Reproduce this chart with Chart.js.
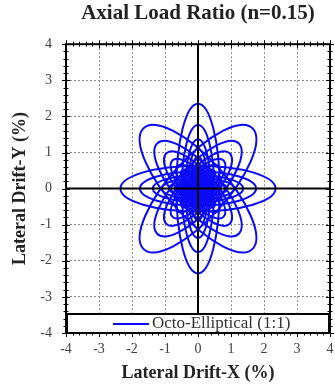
<!DOCTYPE html>
<html>
<head>
<meta charset="utf-8">
<script src="https://cdn.jsdelivr.net/npm/chart.js@4"></script>
<style>
  html, body { margin: 0; padding: 0; background: #fff; }
  canvas { display: block; }
</style>
</head>
<body>
<canvas id="orbit" width="335" height="392"></canvas>
<script>
// Data
const seriesLabel = 'Octo-Elliptical (1:1)';
// petal orientation (degrees) for the 4 ellipses of each drift level
const petalAngles = [0, 45, 90, 135];
// minor / major axis ratio of the petal at each orientation
const petalRatios = [0.27, 0.36, 0.28, 0.36];
// semi-major axis of each drift level (% drift)
const amplitudes = [0.06, 0.08, 0.1, 0.12, 0.15, 0.18, 0.22, 0.27, 0.33, 0.4, 0.48, 0.58, 0.7, 0.88, 1.1, 1.37, 1.76, 2.35];
const tickValues = [-4, -3, -2, -1, 0, 1, 2, 3, 4];

const BLUE = '#0b0bf5';
const SERIF = '"Liberation Serif", "DejaVu Serif", serif';

// Ellipses drawn in data space through the chart scales
const petalPlugin = {
    id: 'petals',
    afterDatasetsDraw(chart) {
        const {ctx, chartArea, scales: {x, y}} = chart;
        const cx = x.getPixelForValue(0), cy = y.getPixelForValue(0);
        const sx = x.getPixelForValue(1) - cx;
        const sy = y.getPixelForValue(1) - cy;
        ctx.save();
        ctx.beginPath();
        ctx.rect(chartArea.left, chartArea.top, chartArea.width, chartArea.height);
        ctx.clip();
        ctx.strokeStyle = BLUE;
        ctx.lineWidth = 2;
        amplitudes.forEach(a => {
            petalAngles.forEach((deg, k) => {
                ctx.save();
                ctx.translate(cx, cy);
                ctx.scale(sx, sy);
                ctx.rotate(-deg * Math.PI / 180);
                ctx.beginPath();
                ctx.ellipse(0, 0, a, a * petalRatios[k], 0, 0, Math.PI * 2);
                ctx.restore();
                ctx.stroke();
            });
        });
        ctx.restore();
    }
};

// Zero axes, frame, minor ticks and the boxed legend
const framePlugin = {
    id: 'frame',
    afterDraw(chart) {
        const {ctx, chartArea: ca, scales: {x, y}} = chart;
        ctx.save();
        ctx.strokeStyle = '#000';
        ctx.lineWidth = 2;
        const x0 = x.getPixelForValue(0), y0 = y.getPixelForValue(0);
        ctx.beginPath();
        ctx.moveTo(x0, ca.top); ctx.lineTo(x0, ca.bottom);
        ctx.moveTo(ca.left, y0); ctx.lineTo(ca.right, y0);
        ctx.stroke();

        // minor / major ticks on all four sides
        ctx.lineWidth = 1;
        ctx.beginPath();
        for (let i = -20; i <= 20; i++) {
            const v = i / 5;
            const len = i % 5 === 0 ? 4 : 2.5;
            const px = Math.round(x.getPixelForValue(v)) + 0.5;
            const py = Math.round(y.getPixelForValue(v)) + 0.5;
            ctx.moveTo(px, ca.top - len); ctx.lineTo(px, ca.top + len);
            ctx.moveTo(px, ca.bottom - len); ctx.lineTo(px, ca.bottom + len);
            ctx.moveTo(ca.left - len, py); ctx.lineTo(ca.left + len, py);
            ctx.moveTo(ca.right - len, py); ctx.lineTo(ca.right + len, py);
        }
        ctx.stroke();

        // legend box
        const boxTop = ca.bottom - 19;
        ctx.fillStyle = '#fff';
        ctx.fillRect(ca.left, boxTop, ca.width, 19);
        ctx.lineWidth = 2;
        ctx.strokeRect(ca.left + 1, boxTop, ca.width - 2, 19);
        const ly = boxTop + 10;
        ctx.strokeStyle = BLUE;
        ctx.lineWidth = 2;
        ctx.beginPath();
        ctx.moveTo(113, ly); ctx.lineTo(149, ly);
        ctx.stroke();
        ctx.fillStyle = '#333';
        ctx.font = '17px ' + SERIF;
        ctx.textBaseline = 'middle';
        ctx.fillText(chart.data.datasets[0].label, 152, ly);

        // outer frame
        ctx.strokeStyle = '#000';
        ctx.lineWidth = 2;
        ctx.strokeRect(ca.left, ca.top, ca.width, ca.height);
        ctx.restore();
    }
};

function axis(titleText, isX) {
    return {
        type: 'linear',
        min: -4,
        max: 4,
        afterBuildTicks: s => { s.ticks = tickValues.map(v => ({value: v})); },
        afterFit: s => {
            if (isX) { s.height = 59; s.paddingLeft = 0; s.paddingRight = 0; }
            else { s.width = 66; s.paddingTop = 0; s.paddingBottom = 0; }
        },
        ticks: {
            color: '#404040',
            font: {family: SERIF, size: 14},
            padding: isX ? 8 : 14
        },
        grid: {
            drawTicks: false,
            color: ctx => ctx.tick && ctx.tick.value === 0 ? 'rgba(0,0,0,0)' : '#8a8a8a',
            lineWidth: 1
        },
        border: { display: false, dash: [2, 2] },
        title: {
            display: true,
            text: titleText,
            color: '#222',
            font: {family: SERIF, size: 18, weight: 'bold'},
            padding: isX ? {top: 0, bottom: 8} : {top: 10, bottom: 0}
        }
    };
}

const chart = new Chart(document.getElementById('orbit'), {
    type: 'scatter',
    data: {
        datasets: [{
            label: seriesLabel,
            data: [],
            borderColor: BLUE,
            showLine: true
        }]
    },
    options: {
        responsive: false,
        animation: false,
        devicePixelRatio: 1,
        layout: { padding: {top: 0, right: 5, bottom: 0, left: 0} },
        plugins: {
            legend: { display: false },
            tooltip: { enabled: false },
            title: {
                display: true,
                fullSize: false,
                text: 'Axial Load Ratio (n=0.15)',
                color: '#222',
                font: {family: SERIF, size: 21, weight: 'bold'},
                padding: {top: 1, bottom: 18}
            }
        },
        scales: {
            x: axis('Lateral Drift-X (%)', true),
            y: axis('Lateral Drift-Y (%)', false)
        }
    },
    plugins: [petalPlugin, framePlugin]
});
</script>
</body>
</html>
